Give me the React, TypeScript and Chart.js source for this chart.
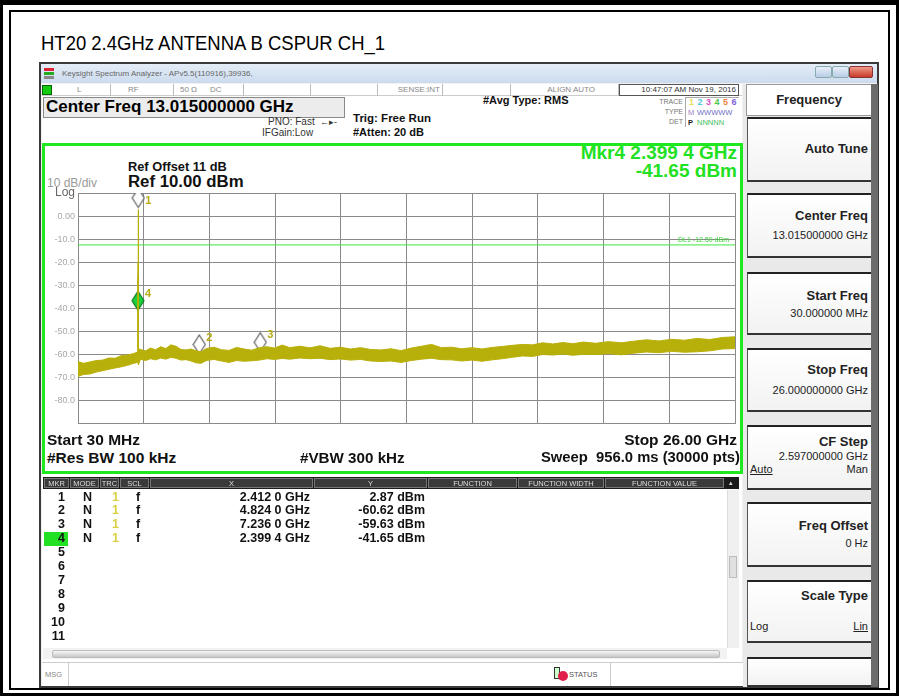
import React, { useEffect, useRef } from "react";
import { Chart, registerables } from "chart.js";
Chart.register(...registerables);

// ---------- chart data ----------
const startFreqGHz = 0.03;
const stopFreqGHz = 26.0;
const refLevelDbm = 10;
const bottomLevelDbm = -90;
const yTickValues = [10, 0, -10, -20, -30, -40, -50, -60, -70, -80, -90];
const yTickLabels = ["Log", "0.00", "-10.0", "-20.0", "-30.0", "-40.0", "-50.0", "-60.0", "-70.0", "-80.0", ""];
const xDivisions = 10;
const displayLineDbm = -12.5;
const displayLineLabel = "DL1 -12.50 dBm";

const traceFreqGHz = [
  0.03, 0.25, 0.5, 0.75, 1.0, 1.25, 1.5, 1.75, 2.0, 2.2, 2.38,
  2.3994, 2.406, 2.412, 2.418, 2.426,
  2.5, 2.7, 2.9, 3.1, 3.3, 3.5, 3.7, 3.9, 4.1, 4.3, 4.5, 4.7, 4.9, 5.1, 5.4, 5.7,
  6.0, 6.3, 6.6, 6.9, 7.2, 7.5, 7.8, 8.1, 8.4, 8.8, 9.2, 9.6, 10.0, 10.4, 10.8,
  11.2, 11.6, 12.0, 12.4, 12.8, 13.2, 13.6, 14.0, 14.4, 14.8, 15.2, 15.6, 16.0,
  16.4, 16.8, 17.2, 17.6, 18.0, 18.4, 18.8, 19.2, 19.6, 20.0, 20.5, 21.0, 21.5,
  22.0, 22.5, 23.0, 23.5, 24.0, 24.5, 25.0, 25.5, 26.0,
];
const traceUpperDbm = [
  -63.0, -63.8, -63.2, -62.6, -62.4, -61.5, -61.6, -60.4, -60.2, -59.6, -59.0,
  -41.65, -20.0, 2.87, -25.0, -57.5,
  -57.8, -58.4, -57.2, -57.9, -56.6, -57.4, -55.8, -56.4, -57.8, -58.0, -57.6, -58.4, -58.8, -57.4, -56.8, -57.9,
  -58.2, -56.9, -57.6, -58.1, -57.0, -56.6, -57.2, -55.9, -57.0, -56.4, -57.1, -56.2, -57.3, -56.8, -57.6,
  -57.0, -57.8, -58.0, -57.5, -58.3, -57.2, -56.4, -55.6, -57.0, -56.8, -57.5, -57.0, -57.6,
  -56.9, -56.5, -56.0, -55.6, -55.8, -54.9, -55.4, -54.8, -55.3, -54.6, -55.1, -54.4, -54.9,
  -54.2, -53.6, -54.1, -53.4, -53.8, -53.0, -53.5, -52.6, -52.3,
];
const traceLowerDbm = [
  -69.5, -68.6, -68.4, -67.6, -67.0, -66.4, -65.8, -65.3, -64.6, -63.9, -63.4,
  -46.0, -26.0, 1.5, -35.0, -64.5,
  -62.0, -62.6, -61.8, -62.3, -61.5, -62.0, -61.2, -61.6, -62.4, -62.2, -62.8, -63.6, -63.8, -62.6, -62.1, -62.8,
  -63.4, -62.6, -62.9, -62.7, -62.4, -61.8, -62.1, -61.7, -62.0, -61.5, -61.8, -61.6, -62.2, -61.9, -62.4,
  -62.1, -62.8, -63.0, -62.8, -63.4, -62.6, -62.0, -61.6, -62.2, -62.3, -62.8, -62.4, -62.9,
  -62.3, -61.8, -61.2, -60.6, -60.8, -60.0, -60.2, -59.8, -60.3, -59.9, -60.0, -59.6, -60.1,
  -59.4, -58.9, -59.2, -58.6, -59.0, -58.8, -58.4, -57.6, -57.4,
];

const markerNames = ["1", "2", "3", "4"];
const markerFreqGHz = [2.412, 4.824, 7.236, 2.3994];
const markerDbm = [2.87, -60.62, -59.63, -41.65];
const markerActive = [false, false, false, true];

// marker table
const tableMkr = ["1", "2", "3", "4", "5", "6", "7", "8", "9", "10", "11"];
const tableMode = ["N", "N", "N", "N"];
const tableTrc = ["1", "1", "1", "1"];
const tableScl = ["f", "f", "f", "f"];
const tableX = ["2.412 0 GHz", "4.824 0 GHz", "7.236 0 GHz", "2.399 4 GHz"];
const tableY = ["2.87 dBm", "-60.62 dBm", "-59.63 dBm", "-41.65 dBm"];

const FONT = '"Liberation Sans", Arial, Helvetica, sans-serif';
const TRACE_COLOR = "rgb(184,176,10)";
const GRID_COLOR = "#8a8a8a";

function diamondImage(fill: string, stroke: string, w: number, h: number, gap: number) {
  const c = document.createElement("canvas");
  c.width = w + 2;
  c.height = 2 * (h + gap) + 2;
  const ctx = c.getContext("2d")!;
  const cx = c.width / 2;
  const top = 1;
  ctx.beginPath();
  ctx.moveTo(cx, top);
  ctx.lineTo(cx + w / 2, top + h / 2);
  ctx.lineTo(cx, top + h);
  ctx.lineTo(cx - w / 2, top + h / 2);
  ctx.closePath();
  ctx.fillStyle = fill;
  ctx.fill();
  ctx.lineWidth = 1.2;
  ctx.strokeStyle = stroke;
  ctx.stroke();
  return c;
}

type TP = {
  x: number; y: number; s?: number; b?: boolean; c?: string; a?: "left" | "right" | "center";
  children: React.ReactNode; style?: React.CSSProperties;
};
const T = ({ x, y, s = 12, b = false, c = "#000", a = "left", children, style }: TP) => {
  const st: React.CSSProperties = {
    position: "absolute", top: y - s * 0.6, fontSize: s, lineHeight: `${s * 1.2}px`,
    fontWeight: b ? "bold" : "normal", color: c, whiteSpace: "nowrap", fontFamily: FONT, ...style,
  };
  if (a === "left") st.left = x;
  else if (a === "right") st.right = 899 - x;
  else { st.left = x; st.transform = "translateX(-50%)"; }
  return <div style={st}>{children}</div>;
};

const Box = ({ l, t, w, h, style }: { l: number; t: number; w: number; h: number; style?: React.CSSProperties }) => (
  <div style={{ position: "absolute", left: l, top: t, width: w, height: h, boxSizing: "border-box", ...style }} />
);

function SpectrumChart() {
  const ref = useRef<HTMLCanvasElement>(null);
  useEffect(() => {
    const canvas = ref.current!;
    const hollow = diamondImage("#ffffff", "#5e5e5e", 12, 19, 2);
    const filled = diamondImage("#19d23c", "#0d7a22", 12, 19, 2);
    const markerLabels = {
      id: "markerLabels",
      afterDatasetsDraw(chart: any) {
        const ctx = chart.ctx;
        const area = chart.chartArea;
        const meta = chart.getDatasetMeta(3);
        ctx.save();
        ctx.font = `bold 11px ${FONT}`;
        ctx.fillStyle = "#b5aa12";
        ctx.textBaseline = "top";
        ctx.textAlign = "left";
        meta.data.forEach((pt: any, i: number) => {
          const ty = Math.max(pt.y - 24, area.top + 2);
          ctx.fillText(markerNames[i], pt.x + 7, ty);
        });
        const yl = chart.scales.y.getPixelForValue(displayLineDbm);
        ctx.font = `7px ${FONT}`;
        ctx.fillStyle = "#3ad83a";
        ctx.textAlign = "right";
        ctx.textBaseline = "bottom";
        ctx.fillText(displayLineLabel, area.right - 6, yl - 1);
        ctx.restore();
      },
    };
    const step = (stopFreqGHz - startFreqGHz) / xDivisions;
    const chart = new Chart(canvas, {
      type: "line",
      data: {
        datasets: [
          {
            data: traceFreqGHz.map((f, i) => ({ x: f, y: traceUpperDbm[i] })),
            borderColor: TRACE_COLOR, borderWidth: 1, pointRadius: 0, fill: false, tension: 0,
          },
          {
            data: traceFreqGHz.map((f, i) => ({ x: f, y: traceLowerDbm[i] })),
            borderColor: TRACE_COLOR, backgroundColor: TRACE_COLOR, borderWidth: 1, pointRadius: 0,
            fill: 0, tension: 0,
          },
          {
            data: [{ x: startFreqGHz, y: displayLineDbm }, { x: stopFreqGHz, y: displayLineDbm }],
            borderColor: "#3be83b", borderWidth: 1, pointRadius: 0, fill: false,
          },
          {
            data: markerFreqGHz.map((f, i) => ({ x: f, y: markerDbm[i] })),
            showLine: false, pointRadius: 8,
            pointStyle: (c: any) => (markerActive[c.dataIndex] ? filled : hollow),
          } as any,
        ],
      },
      options: {
        responsive: false,
        animation: false,
        events: [],
        layout: { padding: { left: 0, top: 11, right: 6, bottom: 6 } },
        plugins: { legend: { display: false }, tooltip: { enabled: false } },
        scales: {
          x: {
            type: "linear", min: startFreqGHz, max: stopFreqGHz,
            afterBuildTicks: (s: any) => {
              const t = [];
              for (let i = 0; i <= xDivisions; i++) t.push({ value: startFreqGHz + i * step });
              s.ticks = t;
            },
            afterFit: (s: any) => { s.height = 0; },
            ticks: { display: false },
            grid: { color: GRID_COLOR, drawTicks: false, lineWidth: 1 },
            border: { color: GRID_COLOR },
          },
          y: {
            type: "linear", min: bottomLevelDbm, max: refLevelDbm,
            afterBuildTicks: (s: any) => { s.ticks = yTickValues.map((v) => ({ value: v })); },
            afterFit: (s: any) => { s.width = 38; },
            ticks: {
              padding: 3,
              callback: (v: any) => yTickLabels[yTickValues.indexOf(Number(v))] ?? "",
              color: (c: any) => (c.tick && c.tick.value === refLevelDbm ? "#666" : "#a8a8a8"),
              font: (c: any) => ({ family: FONT, size: c.tick && c.tick.value === refLevelDbm ? 12 : 9 }),
            },
            grid: { color: GRID_COLOR, drawTicks: false, lineWidth: 1 },
            border: { color: GRID_COLOR },
          },
        },
      },
      plugins: [markerLabels],
    } as any);
    return () => chart.destroy();
  }, []);
  return (
    <canvas ref={ref} width={704} height={252}
      style={{ position: "absolute", left: 40, top: 182, width: 704, height: 252 }} />
  );
}

const softkeys = [
  { top: 117, h: 65, title: "Auto Tune", ty: 149 },
  { top: 193, h: 65, title: "Center Freq", ty: 216, value: "13.015000000 GHz", vy: 236 },
  { top: 272, h: 63, title: "Start Freq", ty: 296, value: "30.000000 MHz", vy: 314 },
  { top: 348, h: 64, title: "Stop Freq", ty: 370, value: "26.000000000 GHz", vy: 391 },
  { top: 425, h: 65, title: "CF Step", ty: 442, value: "2.597000000 GHz", vy: 457 },
  { top: 502, h: 65, title: "Freq Offset", ty: 526, value: "0 Hz", vy: 544 },
  { top: 580, h: 63, title: "Scale Type", ty: 596 },
  { top: 657, h: 30, title: "", ty: 0 },
];

const headerCells = [
  { l: 44, r: 69, t: "MKR" }, { l: 70, r: 99, t: "MODE" }, { l: 100, r: 119, t: "TRC" },
  { l: 120, r: 149, t: "SCL" }, { l: 150, r: 313, t: "X" }, { l: 314, r: 427, t: "Y" },
  { l: 428, r: 517, t: "FUNCTION" }, { l: 518, r: 604, t: "FUNCTION WIDTH" },
  { l: 605, r: 724, t: "FUNCTION VALUE" },
];

export default function App() {
  const rowY = (i: number) => 497 + i * 13.9;
  return (
    <div style={{ position: "absolute", left: 0, top: 0, width: 899, height: 696, background: "#fff", overflow: "hidden", fontFamily: FONT }}>
      {/* outer frame */}
      <Box l={0} t={0} w={899} h={696} style={{ borderTop: "5px solid #000", borderLeft: "3px solid #000", borderRight: "3px solid #000", borderBottom: "3px solid #000" }} />
      <Box l={9} t={10} w={881} h={680} style={{ border: "2px solid #000" }} />
      <T x={41} y={43} s={21} style={{ transform: "scaleX(0.88)", transformOrigin: "left center" }}>HT20 2.4GHz ANTENNA B CSPUR CH_1</T>

      {/* screenshot */}
      <Box l={39} t={62} w={840} h={626} style={{ background: "#f1f1f1", border: "2px solid #3a3a3a" }} />
      {/* window title bar */}
      <Box l={41} t={64} w={836} h={19} style={{ background: "linear-gradient(#e4edf7,#cbdbee)" }} />
      <Box l={44} t={68} w={10} h={3} style={{ background: "#d23" }} />
      <Box l={44} t={72} w={10} h={3} style={{ background: "#2a2" }} />
      <Box l={44} t={76} w={10} h={3} style={{ background: "#888" }} />
      <T x={62} y={73.5} s={8} c="#666">Keysight Spectrum Analyzer - APv5.5(110916),39936,</T>
      <Box l={815} t={66} w={17} h={12} style={{ background: "linear-gradient(#e8f0fa,#b9cde6)", border: "1px solid #8aa", borderRadius: 2 }} />
      <Box l={832} t={66} w={17} h={12} style={{ background: "linear-gradient(#e8f0fa,#b9cde6)", border: "1px solid #8aa", borderRadius: 2 }} />
      <Box l={849} t={66} w={24} h={12} style={{ background: "linear-gradient(#f09a8a,#c83a28)", border: "1px solid #833", borderRadius: 2 }} />

      {/* status row */}
      <Box l={42} t={84} w={700} h={12} style={{ background: "#fff", borderBottom: "1px solid #ccc" }} />
      <Box l={42} t={85} w={10} h={10} style={{ background: "#1c1", border: "1px solid #060" }} />
      {[110, 173, 243, 310, 377, 442, 510, 618].map((x) => (
        <Box key={x} l={x} t={84} w={1} h={12} style={{ background: "#bbb" }} />
      ))}
      <T x={77} y={90} s={8} c="#888">L</T>
      <T x={128} y={90} s={8} c="#888">RF</T>
      <T x={180} y={90} s={8} c="#888">50 Ω</T>
      <T x={210} y={90} s={8} c="#888">DC</T>
      <T x={440} y={90} s={8} c="#888" a="right">SENSE:INT</T>
      <T x={595} y={90} s={8} c="#888" a="right">ALIGN AUTO</T>
      <Box l={619} t={84} w={120} h={12} style={{ border: "1px solid #555", background: "#fff" }} />
      <T x={736} y={90} s={8} c="#333" a="right">10:47:07 AM Nov 19, 2016</T>

      {/* measurement header */}
      <Box l={42} t={96} w={700} h={47} style={{ background: "#fff" }} />
      <Box l={43} t={97} w={302} h={21} style={{ background: "#ececec", border: "1px solid #8a8a8a" }} />
      <T x={46} y={107} s={17} b>Center Freq 13.015000000 GHz</T>
      <T x={268} y={122} s={10} c="#333">PNO: Fast</T>
      <T x={320} y={122} s={9} c="#333">←▸-</T>
      <T x={262} y={133} s={10} c="#333">IFGain:Low</T>
      <T x={353} y={119} s={11.5} b c="#111">Trig: Free Run</T>
      <T x={353} y={133} s={11} b c="#111">#Atten: 20 dB</T>
      <T x={483} y={101} s={11} b c="#111">#Avg Type: RMS</T>
      <T x={683} y={102} s={7} c="#777" a="right">TRACE</T>
      <T x={683} y={112} s={7} c="#777" a="right">TYPE</T>
      <T x={683} y={122} s={7} c="#777" a="right">DET</T>
      <Box l={685} t={97} w={54} h={30} style={{ borderLeft: "1px solid #aaa", borderTop: "1px solid #aaa", background: "#fff" }} />
      {["1", "2", "3", "4", "5", "6"].map((d, i) => (
        <T key={d} x={689 + i * 8.5} y={102} s={9} b c={["#e8e05a", "#4cc8d8", "#e050c8", "#4ac84a", "#f08040", "#8060e0"][i]}>{d}</T>
      ))}
      <T x={688} y={112} s={7.5} c="#a080c0">M</T>
      <T x={697} y={112} s={7.5} c="#7070c8">WWWWW</T>
      <T x={688} y={122} s={7.5} b c="#222">P</T>
      <T x={697} y={122} s={7.5} c="#40c060">NNNNN</T>

      {/* green display box */}
      <Box l={42} t={143} w={701} h={331} style={{ background: "#fff", border: "3px solid #1ee81e" }} />
      <T x={737} y={153} s={19} b c="#22e022" a="right">Mkr4 2.399 4 GHz</T>
      <T x={737} y={171} s={19} b c="#22e022" a="right">-41.65 dBm</T>
      <T x={128} y={167} s={12.8} b c="#111">Ref Offset 11 dB</T>
      <T x={128} y={182} s={16.8} b c="#111">Ref 10.00 dBm</T>
      <T x={47} y={183} s={12} c="#9a9a9a">10 dB/div</T>

      <SpectrumChart />

      <T x={47} y={440} s={15.5} b c="#111">Start 30 MHz</T>
      <T x={737} y={440} s={15.5} b c="#111" a="right">Stop 26.00 GHz</T>
      <T x={47} y={458} s={15.5} b c="#111">#Res BW 100 kHz</T>
      <T x={300} y={458} s={15.2} b c="#111">#VBW 300 kHz</T>
      <T x={740} y={458} s={14.8} b c="#111" a="right">Sweep&nbsp;&nbsp;956.0 ms (30000 pts)</T>

      {/* marker table */}
      <Box l={42} t={474} w={700} h={188} style={{ background: "#fff" }} />
      <Box l={43} t={477} w={696} h={12} style={{ background: "#1c1c1c" }} />
      {headerCells.map((h) => (
        <React.Fragment key={h.t}>
          <Box l={h.l} t={478} w={h.r - h.l} h={10} style={{ background: "#3a3a3a", border: "1px solid #777" }} />
          <T x={(h.l + h.r) / 2} y={483} s={7.5} c="#ddd" a="center">{h.t}</T>
        </React.Fragment>
      ))}
      <T x={731} y={483} s={7} c="#ddd" a="center">▴</T>
      <Box l={44} t={rowY(3) - 7} w={24} h={14} style={{ background: "#22e022" }} />
      {tableMkr.map((m, i) => (
        <T key={m} x={65} y={rowY(i)} s={12.5} b c="#111" a="right">{m}</T>
      ))}
      {tableMode.map((m, i) => (
        <React.Fragment key={i}>
          <T x={83} y={rowY(i)} s={12.5} b c="#111">{m}</T>
          <T x={112} y={rowY(i)} s={12.5} b c="#d8d040">{tableTrc[i]}</T>
          <T x={136} y={rowY(i)} s={12.5} b c="#111">{tableScl[i]}</T>
          <T x={310} y={rowY(i)} s={12.5} b c="#111" a="right">{tableX[i]}</T>
          <T x={425} y={rowY(i)} s={12.5} b c="#111" a="right">{tableY[i]}</T>
        </React.Fragment>
      ))}
      {/* scrollbars */}
      <Box l={727} t={490} w={12} h={158} style={{ background: "#f0f0f0", borderLeft: "1px solid #ddd" }} />
      <Box l={729} t={556} w={8} h={22} style={{ background: "#e0e0e0", border: "1px solid #bbb" }} />
      <Box l={43} t={648} w={684} h={11} style={{ background: "#f2f2f2" }} />
      <Box l={52} t={650} w={668} h={8} style={{ background: "linear-gradient(#f6f6f6,#c8c8c8)", border: "1px solid #bbb", borderRadius: 2 }} />
      {/* msg bar */}
      <Box l={42} t={662} w={836} h={24} style={{ background: "#fff", borderTop: "1px solid #ccc" }} />
      <Box l={68} t={663} w={1} h={23} style={{ background: "#ccc" }} />
      <Box l={610} t={663} w={1} h={23} style={{ background: "#ccc" }} />
      <T x={45} y={674} s={7.5} c="#888">MSG</T>
      <Box l={554} t={667} w={6} h={12} style={{ border: "1px solid #333", background: "#cfc" }} />
      <div style={{ position: "absolute", left: 558, top: 671, width: 10, height: 10, borderRadius: 5, background: "#e0204a" }} />
      <T x={569} y={674} s={7.5} c="#555">STATUS</T>

      {/* softkey panel */}
      <Box l={743} t={84} w={135} h={603} style={{ background: "#e9e9e9" }} />
      <Box l={746} t={84} w={126} h={32} style={{ background: "#fff", border: "1px solid #999" }} />
      <T x={809} y={100} s={13} b c="#222" a="center">Frequency</T>
      <Box l={871} t={84} w={7} h={603} style={{ background: "#6c6c6c" }} />
      {softkeys.map((k, i) => (
        <React.Fragment key={i}>
          <Box l={747} t={k.top} w={124} h={k.h} style={{ background: "linear-gradient(#ffffff,#f2f2f2)", borderTop: "2px solid #222", borderBottom: "2px solid #333", borderLeft: "1px solid #555" }} />
          {k.title && <T x={868} y={k.ty} s={13} b c="#222" a="right">{k.title}</T>}
          {k.value && <T x={868} y={k.vy} s={11} c="#222" a="right">{k.value}</T>}
        </React.Fragment>
      ))}
      <T x={750} y={470} s={11} c="#222" style={{ textDecoration: "underline" }}>Auto</T>
      <T x={868} y={470} s={11} c="#222" a="right">Man</T>
      <T x={750} y={627} s={11} c="#222">Log</T>
      <T x={868} y={627} s={11} c="#222" a="right" style={{ textDecoration: "underline" }}>Lin</T>
    </div>
  );
}
